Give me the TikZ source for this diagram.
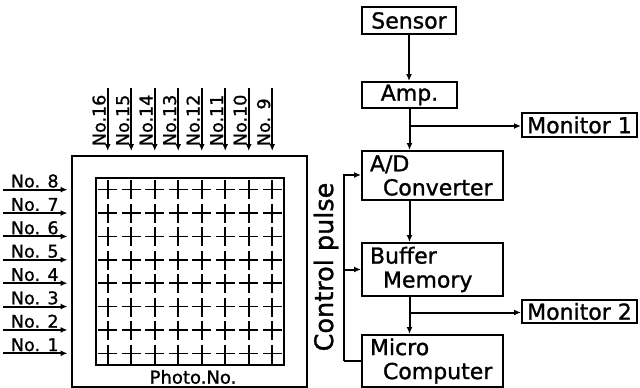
\documentclass[tikz,border=0pt]{standalone}
\usepackage{fontspec}
\setmainfont{DejaVu Sans}[FakeBold=1.2]
\usetikzlibrary{arrows.meta}

\begin{document}
\begin{tikzpicture}[x=1pt, y=-1pt, line width=2pt,
            block/.style={draw, rectangle, inner sep=0pt, font=\fontsize{22}{24}\selectfont},
            twoline/.style={block, align=left, text width=125pt, inner xsep=8pt, minimum width=141pt},
            numtag/.style={inner sep=1pt, font=\fontsize{17.5}{20}\selectfont},
            sig/.style={-{Latex[length=7pt, width=6pt]}},
            gridline/.style={line width=1.6pt, dash pattern=on 19pt off 4.5pt, dash phase=21.3pt}]
            \useasboundingbox (0,0) rectangle (640,388);
            \node[block, minimum width=94pt, minimum height=27pt] (sensor) at (409,20.5) {Sensor};
            \node[block, minimum width=95pt, minimum height=26pt] (amp) at (409.5,95) {Amp.};
            \node[block, minimum width=115pt, minimum height=24pt] (mon1) at (579.5,125) {Monitor 1};
            \node[twoline, minimum height=49pt] (adc) at (432.5,175.5) {A/D\\\hspace*{13pt}Converter};
            \node[twoline, minimum height=53pt] (buffer) at (432.5,269.5) {Buffer\\\hspace*{13pt}Memory};
            \node[block, minimum width=115pt, minimum height=23pt] (mon2) at (579.5,311.5) {Monitor 2};
            \node[twoline, minimum height=52pt] (micro) at (432.5,361) {Micro\\\hspace*{13pt}Computer};
            \node[rotate=90, font=\fontsize{25.5}{28}\selectfont] (ctrl) at (326,267) {Control pulse};
            \coordinate (tap1) at (409.5,126);
            \coordinate (tap2) at (409.5,312.5);
            \coordinate (cptop) at (344,175);
            \coordinate (cpbot) at (344,361);
            \draw[sig] (sensor.south) -- (sensor.south |- amp.north);
            \draw[sig] (amp.south) -- (amp.south |- adc.north);
            \draw[sig] (tap1) -- (tap1 -| mon1.west);
            \draw[sig] (amp.south |- adc.south) -- (amp.south |- buffer.north);
            \draw[sig] (amp.south |- buffer.south) -- (amp.south |- micro.north);
            \draw[sig] (tap2) -- (tap2 -| mon2.west);
            \draw[sig] (cpbot) -- (cptop) -- (cptop -| adc.west);
            \draw[sig] (cpbot |- buffer.west) -- (buffer.west);
            \draw (cpbot) -- (cpbot -| micro.west);

            \node[draw, inner sep=0pt, minimum width=235pt, minimum height=231pt] (frame) at (189,271.5) {};
            \node[draw, inner sep=0pt, minimum width=188pt, minimum height=187pt] (grid) at (190,271.5) {};
            \foreach \i in {1,...,8} {
                \draw[gridline] (84.25+23.5*\i,178) -- (84.25+23.5*\i,365);
                \draw[gridline] (96,166.3+23.375*\i) -- (284,166.3+23.375*\i);
            }
            \foreach \n [count=\i] in {No.16,No.15,No.14,No.13,No.12,No.11,No.10,No. 9} {
                \coordinate (c\i) at (84.25+23.5*\i,88);
                \draw[sig, shorten >=4pt] (c\i) -- (c\i |- frame.north);
                \node[numtag, rotate=90, anchor=south west] at (84.25+23.5*\i,148) {\n};
            }
            \foreach \n [count=\j] in {8,7,6,5,4,3,2,1} {
                \coordinate (r\j) at (3,166.3+23.375*\j);
                \draw[sig, shorten >=3pt] (r\j) -- (r\j -| frame.west);
                \node[numtag, anchor=south west] at (9,166.3+23.375*\j) {No. \n};
            }
            \node[numtag, font=\fontsize{18}{20}\selectfont] (photo) at (193,377) {Photo.No.};
        \end{tikzpicture}
\end{document}
